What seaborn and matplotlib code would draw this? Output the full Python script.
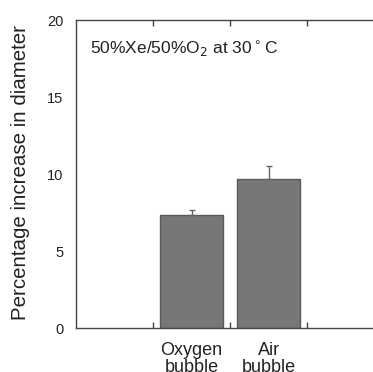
import matplotlib
matplotlib.use("Agg")
import matplotlib.pyplot as plt
import seaborn as sns
import pandas as pd

# Values
groups = ["Oxygen\nbubble", "Air\nbubble"]
increase = [7.35, 9.7]
sem = [0.3, 0.85]

data = pd.DataFrame({"group": groups, "increase": increase})

sns.set_style("white")
plt.rcParams["font.family"] = ["Liberation Sans", "DejaVu Sans"]

fig = plt.figure(figsize=(3.73, 3.72), dpi=100)
# the right spine sits just past the figure edge in the original
ax = fig.add_axes([0.204, 0.118, 0.826, 0.828])

sns.barplot(data=data, x="group", y="increase", order=groups, color="#777777",
            edgecolor="#5a5a5a", linewidth=1, width=0.82, errorbar=None,
            saturation=1, ax=ax)

# upper half error bars only
ax.errorbar(range(len(groups)), increase, yerr=[[0] * len(sem), sem], fmt="none",
            ecolor="#666666", elinewidth=1, capsize=2.5, capthick=1)

ax.set_xlim(-1.5, 2.5)
ax.set_ylim(0, 20)
ax.set_yticks([0, 5, 10, 15, 20])
ax.tick_params(axis="y", length=0, pad=9, labelsize=10.5, colors="#222222")

ax.set_xticks([-0.5, 0.5, 1.5], minor=True)
ax.set_xticks([0, 1])
ax.set_xticklabels(groups, fontsize=13, linespacing=1.0)
ax.tick_params(axis="x", which="major", length=0, pad=10, colors="#222222")
ax.tick_params(axis="x", which="minor", direction="in", length=4, width=1,
               top=True, bottom=True, color="#444444")

for s in ax.spines.values():
    s.set_color("#444444")
    s.set_linewidth(1)

ax.set_xlabel("")
ax.set_ylabel("Percentage increase in diameter", fontsize=14.8, color="#222222")
ax.yaxis.set_label_coords(-0.15, 0.505)

ax.text(0.045, 0.905, r"50%Xe/50%O$_2$ at 30$^\circ$C", transform=ax.transAxes,
        fontsize=12.5, ha="left", va="center", color="#222222")

fig.savefig("out.png", dpi=100)
